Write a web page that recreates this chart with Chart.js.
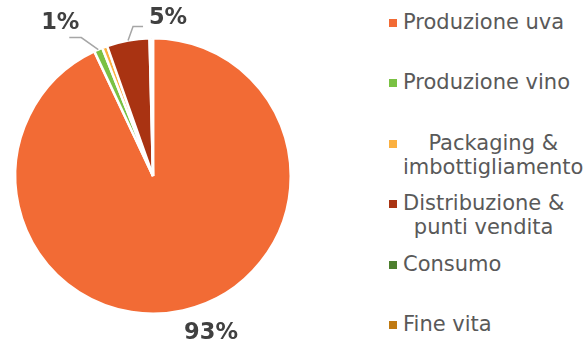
<!DOCTYPE html>
<html lang="it">
<head>
<meta charset="utf-8">
<title>Ripartizione impatti</title>
<script src="https://cdn.jsdelivr.net/npm/chart.js@4.4.1/dist/chart.umd.min.js"></script>
<style>
  html, body { margin: 0; padding: 0; background: #fff; }
  #wrap { position: relative; width: 588px; height: 342px; overflow: hidden; }
  #pie-box { position: absolute; left: 0; top: 0; width: 306px; height: 342px; }
  #legend { position: absolute; left: 389px; top: 10px; margin: 0; padding: 0; list-style: none;
            font-family: "DejaVu Sans", Verdana, sans-serif; font-size: 21px; color: #595959; }
  #legend li { height: 60.4px; display: flex; align-items: flex-start; }
  #legend .mark { width: 8px; height: 8px; margin: 9px 6px 0 0; flex: none; }
  #legend .txt { display: inline-block; text-align: center; line-height: 24px; white-space: nowrap; }
</style>
</head>
<body>
<div id="wrap">
  <div id="pie-box"><canvas id="chart-pie"></canvas></div>
  <ul id="legend"></ul>
</div>
<script>
/* ── Data ── */
const categories = [
  'Produzione uva',
  'Produzione vino',
  ['Packaging &', 'imbottigliamento'],
  ['Distribuzione &', 'punti vendita'],
  'Consumo',
  'Fine vita',
];
const shares      = [93, 1, 0.6, 5, 0.2, 0.2];
const shareLabels = ['93%', '1%', '', '5%', '', ''];
const colors      = ['#F26B35', '#7AC143', '#FBB040', '#A93312', '#4D7F2E', '#C07A12'];

/* Where each percentage sits relative to its slice's outer edge:
   elbow = bend of the leader line, tail = horizontal run, text = offset of label centre */
const labelLayout = {
  0: { text: [28, 23] },
  1: { elbow: [-17, -12], tail: -12, text: [-9, -14] },
  3: { elbow: [5, -14], tail: 10, text: [25, -8] },
};

/* ── Percent labels with leader lines ── */
const pieLabels = {
  id: 'pieLabels',
  afterDatasetsDraw(chart) {
    const ctx = chart.ctx;
    const arcs = chart.getDatasetMeta(0).data;
    ctx.save();
    ctx.font = 'bold 22.5px "DejaVu Sans", Verdana, sans-serif';
    ctx.fillStyle = '#404040';
    ctx.textAlign = 'center';
    ctx.textBaseline = 'middle';
    arcs.forEach((arc, i) => {
      const text = shareLabels[i];
      const lay = labelLayout[i];
      if (!text || !lay) return;
      const mid = (arc.startAngle + arc.endAngle) / 2;
      const ax = arc.x + Math.cos(mid) * arc.outerRadius;
      const ay = arc.y + Math.sin(mid) * arc.outerRadius;
      let ex = ax, ey = ay;
      if (lay.elbow) {
        ex = ax + lay.elbow[0];
        ey = ay + lay.elbow[1];
        ctx.strokeStyle = '#A6A6A6';
        ctx.lineWidth = 1.5;
        ctx.beginPath();
        ctx.moveTo(ax, ay);
        ctx.lineTo(ex, ey);
        ctx.lineTo(ex + lay.tail, ey);
        ctx.stroke();
        ex += lay.tail;
      }
      ctx.fillText(text, ex + lay.text[0], ey + lay.text[1]);
    });
    ctx.restore();
  },
};

new Chart(document.getElementById('chart-pie'), {
  type: 'pie',
  data: {
    labels: categories,
    datasets: [{
      data: shares,
      backgroundColor: colors,
      borderColor: '#ffffff',
      borderWidth: 2.5,
    }],
  },
  options: {
    responsive: true,
    maintainAspectRatio: false,
    animation: false,
    layout: { padding: { top: 37, bottom: 27, left: 14, right: 14 } },
    plugins: {
      legend: { display: false },
      tooltip: { enabled: false },
    },
  },
  plugins: [pieLabels],
});

/* ── Legend ── */
const legend = document.getElementById('legend');
categories.forEach((name, i) => {
  const li = document.createElement('li');
  const mark = document.createElement('span');
  mark.className = 'mark';
  mark.style.background = colors[i];
  const txt = document.createElement('span');
  txt.className = 'txt';
  (Array.isArray(name) ? name : [name]).forEach((line, k) => {
    if (k) txt.appendChild(document.createElement('br'));
    txt.appendChild(document.createTextNode(line));
  });
  li.appendChild(mark);
  li.appendChild(txt);
  legend.appendChild(li);
});
</script>
</body>
</html>
